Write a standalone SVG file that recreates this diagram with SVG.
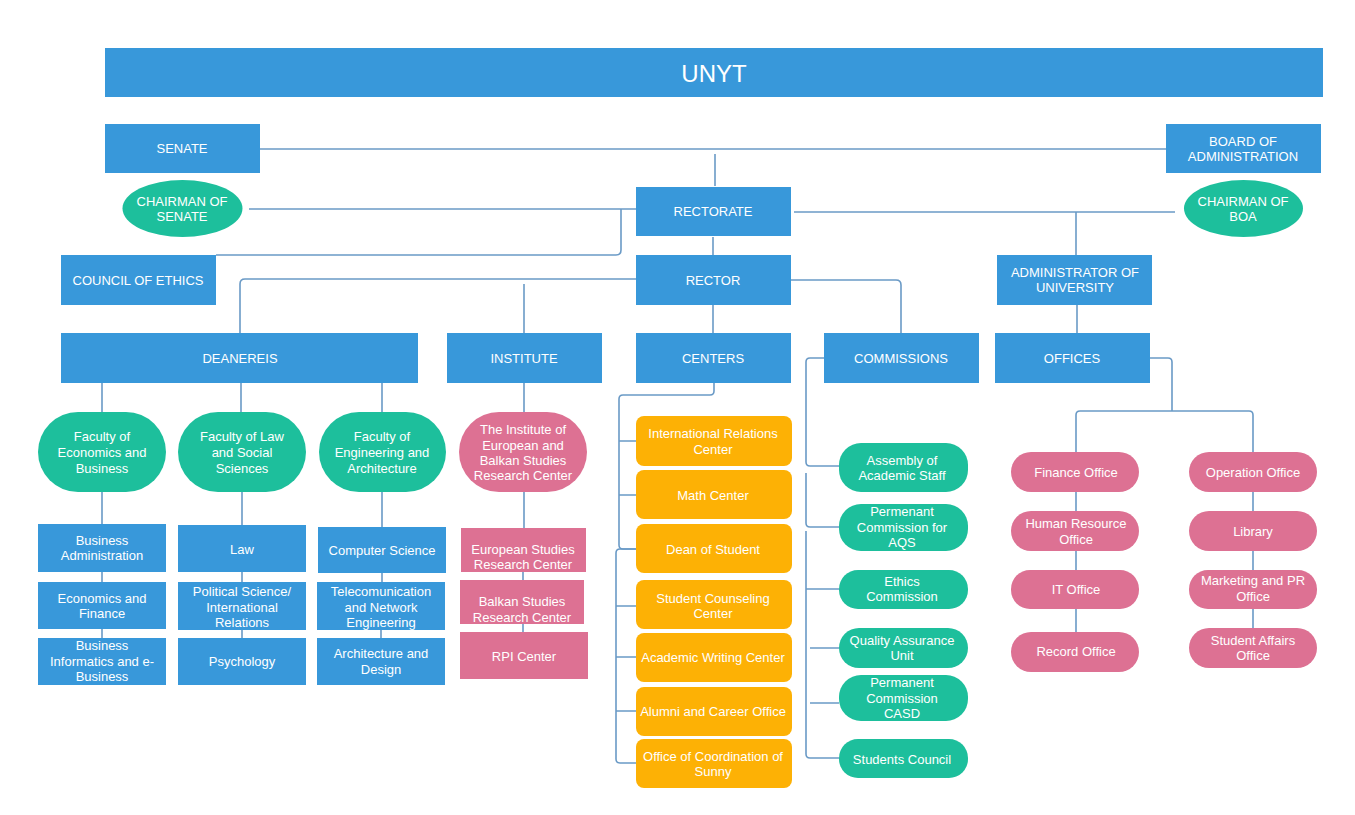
<svg xmlns="http://www.w3.org/2000/svg" width="1355" height="815" viewBox="0 0 1355 815">
<style>
.b{fill:#3898da}
.g{fill:#1dbf9c}
.p{fill:#dd7193}
.o{fill:#fdb105}
.t{font-family:"Liberation Sans",Arial,sans-serif;font-size:13px;fill:#ffffff;text-anchor:middle}
.c{fill:none;stroke:#6a9ac6;stroke-width:1.6}
</style>
<rect width="1355" height="815" fill="#ffffff"/>
<g id="connectors" class="c">
<path d="M260,149 H1166"/>
<path d="M715,154 V186"/>
<path d="M249,209 H636"/>
<path d="M621,209 V250 Q621,255 616,255 H216"/>
<path d="M713,237 V255"/>
<path d="M636,279 H245 Q240,279 240,284 V333"/>
<path d="M524,284 V333"/>
<path d="M791,280 H896 Q901,280 901,285 V333"/>
<path d="M713,305 V333"/>
<path d="M794,212 H1175"/>
<path d="M1076,212 V255"/>
<path d="M1077,305 V333"/>
<path d="M102,383 V412 M241,383 V412 M382,383 V412"/>
<path d="M102,492 V524 M102,572 V582 M102,629 V638"/>
<path d="M242,492 V525 M242,572 V582 M242,630 V638"/>
<path d="M382,492 V527 M382,573 V582 M381,630 V638"/>
<path d="M524,383 V412 M524,492 V528 M523,572 V580 M523,624 V632"/>
<path d="M714,383 V391 Q714,395 710,395 H623 Q619,395 619,399 V545 Q619,549 623,549 H636"/>
<path d="M619,441 H636 M619,495 H636"/>
<path d="M636,549 H620 Q616,549 616,553 V759 Q616,763 620,763 H636"/>
<path d="M616,606 H636 M616,657 H636 M616,711 H636"/>
<path d="M824,358 H810 Q806,358 806,362 V462 Q806,466 810,466 H839"/>
<path d="M806,473 V523 Q806,527 810,527 H839"/>
<path d="M806,531 V754 Q806,758 810,758 H839"/>
<path d="M806,589 H839 M810,648 H839 M810,703 H839"/>
<path d="M1150,358 H1168 Q1172,358 1172,362 V411"/>
<path d="M1076,452 V415 Q1076,411 1080,411 H1249 Q1253,411 1253,415 V452"/>
<path d="M1076,492 V511 M1076,551 V570 M1076,609 V632"/>
<path d="M1253,492 V511 M1253,551 V570 M1253,609 V628"/>
</g>
<g id="unyt"><rect class="b" x="105" y="48" width="1218" height="49"/><text class="t" x="714" y="82" style="font-size:24px">UNYT</text></g>
<g id="senate"><rect class="b" x="105" y="124" width="155" height="49"/><text class="t" x="182" y="153">SENATE</text></g>
<g id="board"><rect class="b" x="1166" y="124" width="155" height="49"/><text class="t" x="1243" y="146">BOARD OF</text><text class="t" x="1243" y="161">ADMINISTRATION</text></g>
<g id="chairman-senate"><ellipse class="g" cx="182.5" cy="208.5" rx="60" ry="28.5"/><text class="t" x="182" y="206">CHAIRMAN OF</text><text class="t" x="182" y="221">SENATE</text></g>
<g id="chairman-boa"><ellipse class="g" cx="1243.5" cy="208.5" rx="59.5" ry="28.5"/><text class="t" x="1243" y="206">CHAIRMAN OF</text><text class="t" x="1243" y="221">BOA</text></g>
<g id="rectorate"><rect class="b" x="636" y="187" width="155" height="49"/><text class="t" x="713" y="216">RECTORATE</text></g>
<g id="council"><rect class="b" x="61" y="255" width="155" height="50"/><text class="t" x="138" y="284.5">COUNCIL OF ETHICS</text></g>
<g id="rector"><rect class="b" x="636" y="255" width="155" height="50"/><text class="t" x="713" y="284.5">RECTOR</text></g>
<g id="administrator"><rect class="b" x="997" y="255" width="155" height="50"/><text class="t" x="1075" y="276.5">ADMINISTRATOR OF</text><text class="t" x="1075" y="291.5">UNIVERSITY</text></g>
<g id="deanereis"><rect class="b" x="61" y="333" width="357" height="50"/><text class="t" x="240" y="363">DEANEREIS</text></g>
<g id="institute"><rect class="b" x="447" y="333" width="155" height="50"/><text class="t" x="524" y="363">INSTITUTE</text></g>
<g id="centers"><rect class="b" x="636" y="333" width="155" height="50"/><text class="t" x="713" y="363">CENTERS</text></g>
<g id="commissions"><rect class="b" x="824" y="333" width="155" height="50"/><text class="t" x="901" y="363">COMMISSIONS</text></g>
<g id="offices"><rect class="b" x="995" y="333" width="155" height="50"/><text class="t" x="1072" y="363">OFFICES</text></g>
<g id="fac-econ"><rect class="g" x="38" y="412" width="128" height="80" rx="40"/><text class="t" x="102" y="441">Faculty of</text><text class="t" x="102" y="457">Economics and</text><text class="t" x="102" y="472.5">Business</text></g>
<g id="fac-law"><rect class="g" x="178" y="412" width="128" height="80" rx="40"/><text class="t" x="242" y="441">Faculty of Law</text><text class="t" x="242" y="457">and Social</text><text class="t" x="242" y="472.5">Sciences</text></g>
<g id="fac-eng"><rect class="g" x="319" y="412" width="127" height="80" rx="40"/><text class="t" x="382" y="441">Faculty of</text><text class="t" x="382" y="457">Engineering and</text><text class="t" x="382" y="472.5">Architecture</text></g>
<g id="inst-ebs"><rect class="p" x="459" y="412" width="128" height="80" rx="40"/><text class="t" x="523" y="434">The Institute of</text><text class="t" x="523" y="449.5">European and</text><text class="t" x="523" y="465">Balkan Studies</text><text class="t" x="523" y="480">Research Center</text></g>
<g id="ba"><rect class="b" x="38" y="524" width="128" height="48"/><text class="t" x="102" y="544.5">Business</text><text class="t" x="102" y="560">Administration</text></g>
<g id="ef"><rect class="b" x="38" y="582" width="128" height="47"/><text class="t" x="102" y="602.5">Economics and</text><text class="t" x="102" y="618">Finance</text></g>
<g id="bi"><rect class="b" x="38" y="638" width="128" height="47"/><text class="t" x="102" y="650">Business</text><text class="t" x="102" y="665.5">Informatics and e-</text><text class="t" x="102" y="681">Business</text></g>
<g id="law"><rect class="b" x="178" y="525" width="128" height="47"/><text class="t" x="242" y="553.5">Law</text></g>
<g id="polsci"><rect class="b" x="178" y="582" width="128" height="48"/><text class="t" x="242" y="596">Political Science/</text><text class="t" x="242" y="611.5">International</text><text class="t" x="242" y="627">Relations</text></g>
<g id="psy"><rect class="b" x="178" y="638" width="128" height="47"/><text class="t" x="242" y="665.5">Psychology</text></g>
<g id="cs"><rect class="b" x="318" y="527" width="128" height="46"/><text class="t" x="382" y="555">Computer Science</text></g>
<g id="tel"><rect class="b" x="317" y="582" width="128" height="48"/><text class="t" x="381" y="596">Telecomunication</text><text class="t" x="381" y="611.5">and Network</text><text class="t" x="381" y="627">Engineering</text></g>
<g id="arch"><rect class="b" x="317" y="638" width="128" height="47"/><text class="t" x="381" y="658">Architecture and</text><text class="t" x="381" y="673.5">Design</text></g>
<g id="eu"><rect class="p" x="461" y="528" width="125" height="44"/><text class="t" x="523" y="553.5">European Studies</text><text class="t" x="523" y="569">Research Center</text></g>
<g id="balkan"><rect class="p" x="460" y="580" width="124" height="44"/><text class="t" x="522" y="606">Balkan Studies</text><text class="t" x="522" y="621.5">Research Center</text></g>
<g id="rpi"><rect class="p" x="460" y="632" width="128" height="47"/><text class="t" x="524" y="660.5">RPI Center</text></g>
<g id="c-irc"><rect class="o" x="636" y="416" width="156" height="50" rx="8"/><text class="t" x="713" y="438">International Relations</text><text class="t" x="713" y="453.5">Center</text></g>
<g id="c-math"><rect class="o" x="636" y="470" width="156" height="49" rx="8"/><text class="t" x="713" y="499.5">Math Center</text></g>
<g id="c-dean"><rect class="o" x="636" y="524" width="156" height="49" rx="8"/><text class="t" x="713" y="554">Dean of Student</text></g>
<g id="c-scc"><rect class="o" x="636" y="580" width="156" height="49" rx="8"/><text class="t" x="713" y="603">Student Counseling</text><text class="t" x="713" y="618">Center</text></g>
<g id="c-awc"><rect class="o" x="636" y="633" width="156" height="49" rx="8"/><text class="t" x="713" y="662">Academic Writing Center</text></g>
<g id="c-alumni"><rect class="o" x="636" y="687" width="156" height="49" rx="8"/><text class="t" x="713" y="715.5">Alumni and Career Office</text></g>
<g id="c-sunny"><rect class="o" x="636" y="739" width="156" height="49" rx="8"/><text class="t" x="713" y="761">Office of Coordination of</text><text class="t" x="713" y="776">Sunny</text></g>
<g id="m-assembly"><rect class="g" x="839" y="443" width="129" height="49" rx="22"/><text class="t" x="902" y="465">Assembly of</text><text class="t" x="902" y="480">Academic Staff</text></g>
<g id="m-aqs"><rect class="g" x="839" y="504" width="129" height="47" rx="22"/><text class="t" x="902" y="516">Permenant</text><text class="t" x="902" y="531.5">Commission for</text><text class="t" x="902" y="547">AQS</text></g>
<g id="m-ethics"><rect class="g" x="839" y="570" width="129" height="39" rx="19"/><text class="t" x="902" y="586">Ethics</text><text class="t" x="902" y="601">Commission</text></g>
<g id="m-qa"><rect class="g" x="839" y="628" width="129" height="40" rx="20"/><text class="t" x="902" y="644.5">Quality Assurance</text><text class="t" x="902" y="660">Unit</text></g>
<g id="m-casd"><rect class="g" x="839" y="675" width="129" height="46" rx="22"/><text class="t" x="902" y="687">Permanent</text><text class="t" x="902" y="702.5">Commission</text><text class="t" x="902" y="718">CASD</text></g>
<g id="m-council"><rect class="g" x="839" y="739" width="129" height="39" rx="19"/><text class="t" x="902" y="763.5">Students Council</text></g>
<g id="o-finance"><rect class="p" x="1011" y="452" width="128" height="40" rx="20"/><text class="t" x="1076" y="476.5">Finance Office</text></g>
<g id="o-hr"><rect class="p" x="1011" y="511" width="128" height="40" rx="20"/><text class="t" x="1076" y="528">Human Resource</text><text class="t" x="1076" y="543.5">Office</text></g>
<g id="o-it"><rect class="p" x="1011" y="570" width="128" height="39" rx="19"/><text class="t" x="1076" y="593.5">IT Office</text></g>
<g id="o-record"><rect class="p" x="1011" y="632" width="128" height="40" rx="20"/><text class="t" x="1076" y="656">Record Office</text></g>
<g id="o-operation"><rect class="p" x="1189" y="452" width="128" height="40" rx="20"/><text class="t" x="1253" y="476.5">Operation Office</text></g>
<g id="o-library"><rect class="p" x="1189" y="511" width="128" height="40" rx="20"/><text class="t" x="1253" y="535.5">Library</text></g>
<g id="o-marketing"><rect class="p" x="1189" y="570" width="128" height="39" rx="19"/><text class="t" x="1253" y="585">Marketing and PR</text><text class="t" x="1253" y="601">Office</text></g>
<g id="o-affairs"><rect class="p" x="1189" y="628" width="128" height="40" rx="20"/><text class="t" x="1253" y="645">Student Affairs</text><text class="t" x="1253" y="660">Office</text></g>
</svg>
